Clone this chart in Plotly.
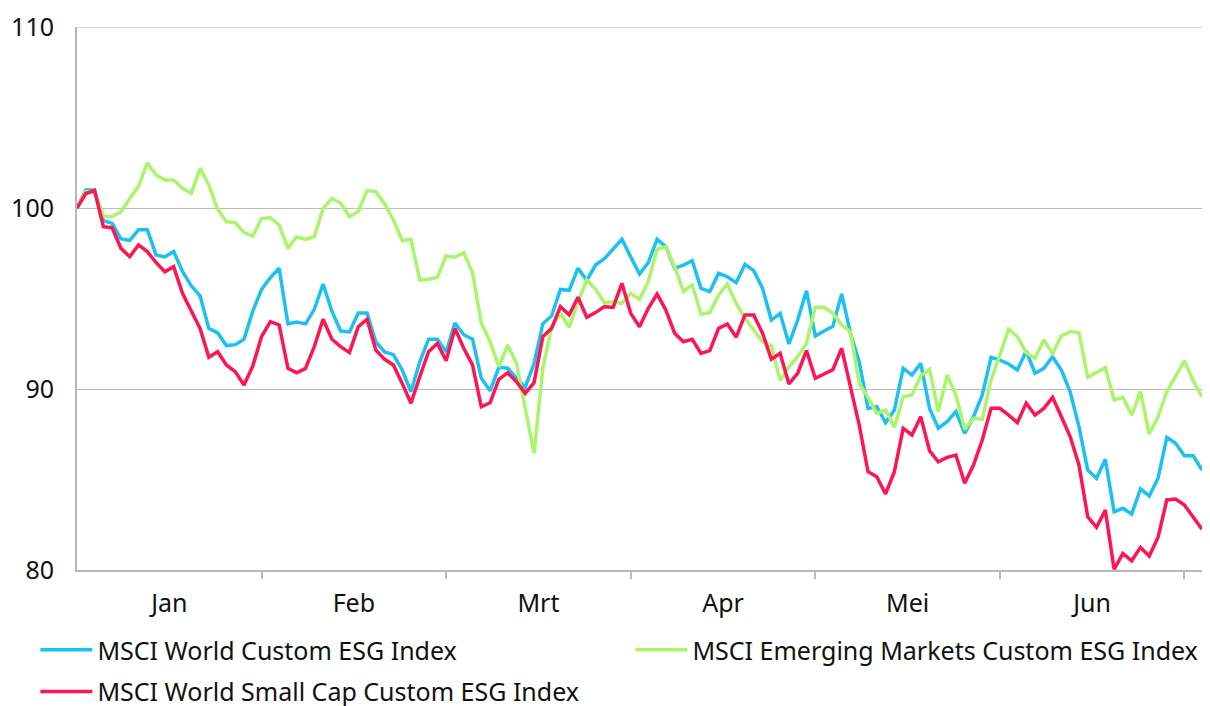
import plotly.graph_objects as go

months = ["Jan", "Feb", "Mrt", "Apr", "Mei", "Jun"]

world = [100.0, 101.0, 101.0, 99.3, 99.15, 98.3, 98.2, 98.8, 98.8, 97.4,
         97.3, 97.6, 96.5, 95.7, 95.15, 93.35, 93.1, 92.4, 92.45, 92.75,
         94.3, 95.5, 96.15, 96.67, 93.6, 93.7, 93.6, 94.4, 95.8, 94.3,
         93.2, 93.15, 94.2, 94.2, 92.6, 92.05, 91.9, 91.05, 89.85, 91.5,
         92.75, 92.75, 92.05, 93.65, 93.0, 92.75, 90.6, 89.9, 91.2, 91.15,
         90.6, 90.1, 91.4, 93.6, 94.05, 95.5, 95.45, 96.67, 96.0, 96.85,
         97.2, 97.77, 98.27, 97.3, 96.35, 96.98, 98.27, 97.86, 96.67, 96.85,
         97.09, 95.56, 95.38, 96.39, 96.2, 95.87, 96.89, 96.54, 95.56, 93.81,
         94.18, 92.49, 93.81, 95.43, 92.93, 93.2, 93.46, 95.25, 93.08, 91.5,
         88.93, 89.02, 88.14, 88.84, 91.14, 90.77, 91.42, 88.93, 87.83, 88.19,
         88.75, 87.55, 88.47, 89.67, 91.75, 91.6, 91.38, 91.05, 92.1, 90.87,
         91.14, 91.78, 91.05, 89.85, 87.92, 85.52, 85.07, 86.12, 83.22, 83.41,
         83.09, 84.48, 84.09, 85.07, 87.33, 87.0, 86.31, 86.31, 85.52]

emerging = [100.0, 100.9, 100.9, 99.56, 99.52, 99.8, 100.53, 101.2, 102.5, 101.82,
            101.55, 101.55, 101.09, 100.81, 102.19, 101.27, 99.93, 99.24, 99.19, 98.64,
            98.45, 99.43, 99.46, 99.06, 97.77, 98.41, 98.27, 98.41, 99.98, 100.53,
            100.26, 99.52, 99.8, 100.96, 100.9, 100.22, 99.34, 98.19, 98.27, 96.02,
            96.06, 96.17, 97.35, 97.28, 97.53, 96.43, 93.63, 92.61, 91.23, 92.43,
            91.42, 88.93, 86.45, 91.14, 93.44, 94.18, 93.41, 94.82, 96.02, 95.51,
            94.77, 94.82, 94.73, 95.29, 94.95, 95.93, 97.72, 97.86, 96.76, 95.38,
            95.75, 94.13, 94.22, 95.19, 95.8, 94.73, 93.91, 93.26, 92.61, 92.38,
            90.46, 91.23, 91.78, 92.52, 94.51, 94.51, 94.18, 93.54, 93.17, 90.31,
            89.54, 88.66, 88.84, 87.88, 89.57, 89.67, 90.72, 91.09, 88.75, 90.77,
            89.67, 87.77, 88.38, 88.32, 90.5, 91.88, 93.3, 92.89, 92.0, 91.7,
            92.71, 91.97, 92.93, 93.17, 93.11, 90.65, 90.9, 91.18, 89.39, 89.54,
            88.56, 89.85, 87.51, 88.47, 89.85, 90.72, 91.57, 90.46, 89.57]

smallcap = [100.0, 100.8, 100.96, 98.97, 98.91, 97.77, 97.31, 97.96, 97.59, 96.98,
            96.48, 96.76, 95.29, 94.27, 93.35, 91.75, 92.06, 91.33, 90.96, 90.22,
            91.27, 92.9, 93.72, 93.54, 91.14, 90.9, 91.14, 92.34, 93.85, 92.75,
            92.34, 92.01, 93.44, 93.85, 92.15, 91.64, 91.33, 90.31, 89.21, 90.68,
            92.06, 92.52, 91.56, 93.35, 92.25, 91.33, 89.02, 89.24, 90.54, 90.9,
            90.4, 89.76, 90.35, 92.89, 93.35, 94.55, 94.09, 95.07, 93.96, 94.22,
            94.55, 94.51, 95.84, 94.18, 93.44, 94.46, 95.25, 94.36, 93.08, 92.61,
            92.75, 91.97, 92.12, 93.35, 93.59, 92.86, 94.09, 94.09, 93.08, 91.64,
            91.97, 90.28, 90.87, 92.12, 90.59, 90.83, 91.07, 92.25, 90.13, 88.01,
            85.43, 85.15, 84.2, 85.43, 87.83, 87.46, 88.47, 86.59, 85.98, 86.22,
            86.35, 84.79, 85.8, 87.18, 88.93, 88.93, 88.56, 88.14, 89.22, 88.56,
            88.93, 89.54, 88.47, 87.37, 85.8, 82.94, 82.36, 83.31, 80.04, 80.92,
            80.51, 81.25, 80.77, 81.81, 83.87, 83.92, 83.59, 82.94, 82.25]

days = list(range(len(world)))
month_len = 21
month_bounds = [month_len * (k + 1) for k in range(len(months))]
month_centers = [month_len * k + month_len / 2 for k in range(len(months))]

FONT = "Noto Sans"
FS = 25
fig = go.Figure()
fig.add_trace(go.Scatter(x=days, y=world, mode="lines", name="MSCI World Custom ESG Index",
                         line=dict(color="#1CC0F3", width=3.5), legend="legend"))
fig.add_trace(go.Scatter(x=days, y=emerging, mode="lines", name="MSCI Emerging Markets Custom ESG Index",
                         line=dict(color="#ABF56B", width=3.5), legend="legend"))
fig.add_trace(go.Scatter(x=days, y=smallcap, mode="lines", name="MSCI World Small Cap Custom ESG Index",
                         line=dict(color="#FD1554", width=3.5), legend="legend2"))

fig.update_layout(
    width=1202, height=698,
    margin=dict(l=69, r=8, t=19, b=136, autoexpand=False),
    paper_bgcolor="white", plot_bgcolor="white",
    font=dict(family=FONT, size=FS, color="#111111"),
    showlegend=True,
    legend=dict(orientation="h", x=-0.037, xanchor="left", y=-0.105, yanchor="top",
                entrywidth=528, entrywidthmode="pixels", itemwidth=52,
                font=dict(family=FONT, size=FS), bgcolor="rgba(0,0,0,0)"),
    legend2=dict(orientation="h", x=-0.037, xanchor="left", y=-0.182, yanchor="top",
                 itemwidth=52, font=dict(family=FONT, size=FS), bgcolor="rgba(0,0,0,0)"),
    shapes=[dict(type="line", xref="paper", yref="y", x0=0, x1=1, y0=110, y1=110,
                 line=dict(color="#CFCAC6", width=1.5), layer="below")],
)
fig.update_xaxes(
    range=[0, len(world) - 1],
    tickmode="array", tickvals=month_centers, ticktext=months,
    ticks="", showgrid=False, zeroline=False,
    showline=True, linecolor="#B5B9BD", linewidth=2,
    ticklabelstandoff=10,
    tickfont=dict(family=FONT, size=FS),
    minor=dict(tickmode="array", tickvals=month_bounds, ticks="outside", ticklen=7,
               tickwidth=2, tickcolor="#B5B9BD", showgrid=False),
)
fig.update_yaxes(
    range=[80, 110], tickmode="array", tickvals=[80, 90, 100, 110],
    showgrid=True, gridcolor="#C4BAB2", gridwidth=1, zeroline=False,
    showline=True, linecolor="#B5B9BD", linewidth=2,
    ticks="", ticklabelstandoff=16,
    tickfont=dict(family=FONT, size=FS),
)

fig.write_html("out.html")
